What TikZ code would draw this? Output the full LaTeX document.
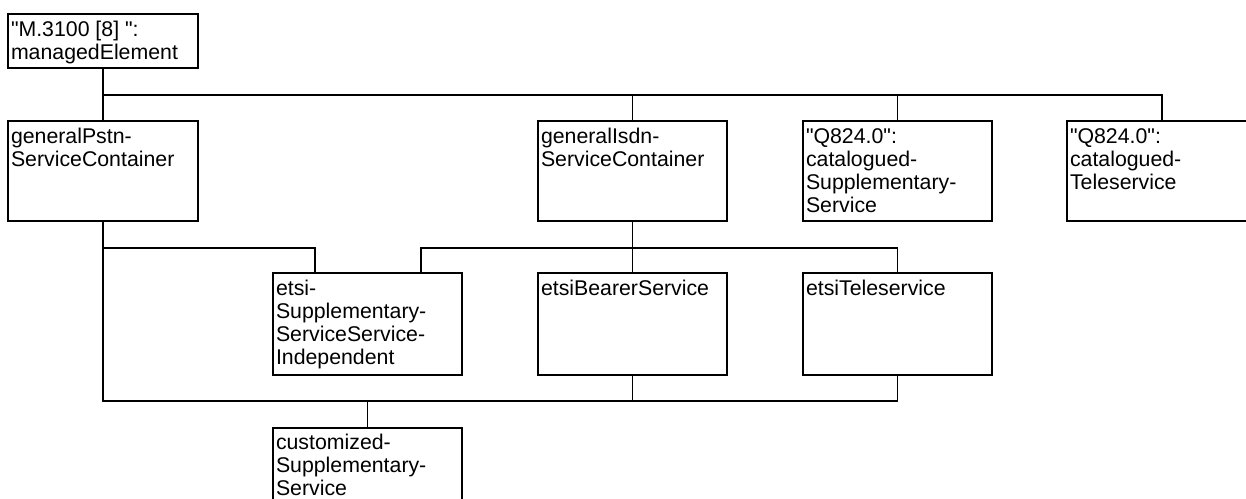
\documentclass[tikz,border=0pt]{standalone}
\usepackage{fontspec}
\setmainfont{Liberation Sans}[Ligatures=TeXOff]
\newcommand\boxtext[4][22.5pt]{\parbox[t][#3][t]{#2}{\raggedright\rule{0pt}{#1}#4}}
\tikzset{
  objbox/.style={draw, rectangle, line width=1.8pt, inner xsep=3pt, inner ysep=0pt, outer sep=0pt, anchor=north west, font=\fontsize{21.3}{23}\selectfont},
  conn/.style={draw, line width=1.8pt}
}
\begin{document}
\begin{tikzpicture}[x=1pt,y=-1pt]
\useasboundingbox (0,0) rectangle (1246,498);
\clip (0,0) rectangle (1246,498);
\node[objbox] (top) at (8,14) {\boxtext{184pt}{54pt}{"M.3100 [8] ":\\managedElement}};
\node[objbox] (pstn) at (8,121) {\boxtext{184pt}{100pt}{generalPstn-\\ServiceContainer}};
\node[objbox] (isdn) at (538,121) {\boxtext{183pt}{100pt}{generalIsdn-\\ServiceContainer}};
\node[objbox] (qss) at (803,121) {\boxtext{183pt}{100pt}{"Q824.0":\\catalogued-\\Supplementary-\\Service}};
\node[objbox] (qts) at (1067,121) {\boxtext{184pt}{100pt}{"Q824.0":\\catalogued-\\Teleservice}};
\node[objbox] (ess) at (273,273) {\boxtext{183pt}{102pt}{etsi-\\Supplementary-\\ServiceService-\\Independent}};
\node[objbox] (bear) at (538,273) {\boxtext{183pt}{102pt}{etsiBearerService}};
\node[objbox] (tele) at (803,273) {\boxtext{183pt}{102pt}{etsiTeleservice}};
\node[objbox] (cust) at (273,428) {\boxtext[21pt]{183pt}{100pt}{customized-\\Supplementary-\\Service}};
% junction coordinates
\coordinate (j1) at ([yshift=26pt]isdn.north);
\coordinate (j2) at ([yshift=27pt]cust.north);
\coordinate (j3) at ([yshift=25pt]bear.north);
% top level
\draw[conn] (top.south) -- (pstn.north);
\draw[conn] (top.south |- j1) -| (isdn.north);
\draw[conn] (top.south |- j1) -| (qss.north);
\draw[conn] (top.south |- j1) -| (qts.north);
% pstn container
\draw[conn] (pstn.south) |- (j2) -- (cust.north);
\draw[conn] (pstn.south |- j3) -| ([xshift=42pt]ess.north west);
% isdn container
\draw[conn] (isdn.south) -- (bear.north);
\draw[conn] (j3) -| ([xshift=148pt]ess.north west);
\draw[conn] (j3) -| (tele.north);
% to customized
\draw[conn] (bear.south) |- (j2);
\draw[conn] (tele.south) |- (j2);
\end{tikzpicture}
\end{document}
